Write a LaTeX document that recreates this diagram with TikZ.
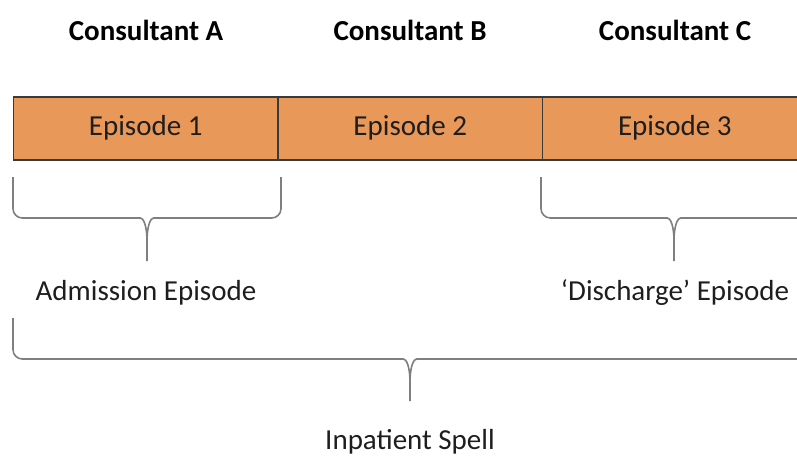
\documentclass[tikz,border=0pt]{standalone}
\usepackage{fontspec}
\setmainfont{Carlito}
\usetikzlibrary{positioning}
\definecolor{epiorange}{HTML}{E8995A}
\definecolor{edgegray}{HTML}{3A3A3A}
\definecolor{bracegray}{HTML}{7F7F7F}
\definecolor{txtblack}{HTML}{1E1E1E}

\begin{document}
\begin{tikzpicture}[
  x=0.75pt, y=-0.75pt,
  episodebox/.style={draw=edgegray, line width=1.1pt, fill=epiorange,
    minimum width=198.4pt, minimum height=47.25pt, inner sep=0pt, outer sep=0pt,
    font=\fontsize{21.75}{26}\selectfont, text=txtblack,
    text height=16pt, text depth=6pt},
  consultlbl/.style={font=\fontsize{21.75}{26}\selectfont\bfseries, text=black},
  spanlbl/.style={font=\fontsize{21.75}{26}\selectfont, text=txtblack},
  bracestroke/.style={draw=bracegray, line width=1.2pt, rounded corners=7pt},
]

% Canvas
\useasboundingbox (0,0) rectangle (797,461);
\clip (0,0) rectangle (797,461);

% === Consultants ===
\node[consultlbl] (consA) at (146,30) {Consultant A};
\node[consultlbl] (consB) at (410,30) {Consultant B};
\node[consultlbl] (consC) at (675,30) {Consultant C};

% === Episode bar ===
\node[episodebox] (ep1) at (145.75,128.5) {Episode 1};
\node[episodebox, right=0pt of ep1] (ep2) {Episode 2};
\node[episodebox, right=0pt of ep2] (ep3) {Episode 3};

% === Brace under Episode 1 ===
\draw[bracestroke] (13,177) -- (13,218) -- (131,218) [sharp corners]
  .. controls (143,218) and (147,224) .. (147,242) -- (147,261);
\draw[bracestroke] (281,177) -- (281,218) -- (163,218) [sharp corners]
  .. controls (151,218) and (147,224) .. (147,242);
\node[spanlbl] (admit) at (146,293) {Admission Episode};

% === Brace under Episode 3 ===
\draw[bracestroke] (541,177) -- (541,218) -- (658,218) [sharp corners]
  .. controls (670,218) and (674,224) .. (674,242) -- (674,261);
\draw[bracestroke] (807,177) -- (807,218) -- (690,218) [sharp corners]
  .. controls (678,218) and (674,224) .. (674,242);
\node[spanlbl] (disch) at (675,293) {`Discharge' Episode};

% === Brace under whole spell ===
\draw[bracestroke] (13,318) -- (13,359) -- (394,359) [sharp corners]
  .. controls (406,359) and (410,365) .. (410,383) -- (410,401);
\draw[bracestroke] (807,318) -- (807,359) -- (426,359) [sharp corners]
  .. controls (414,359) and (410,365) .. (410,383);
\node[spanlbl] (spell) at (410,442) {Inpatient Spell};

\end{tikzpicture}
\end{document}
